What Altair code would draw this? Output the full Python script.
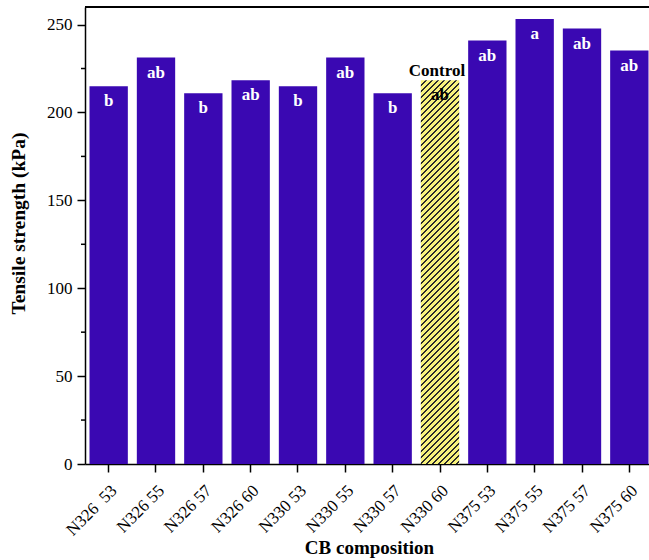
import math
import altair as alt
import pandas as pd

# CB composition (carbon black grade + loading) and measured tensile strength
categories = ["N326\u00a0 53", "N326 55", "N326 57", "N326 60",
              "N330 53", "N330 55", "N330 57", "N330 60",
              "N375 53", "N375 55", "N375 57", "N375 60"]
strength = [214.9, 231.2, 210.9, 218.3, 214.9, 231.2, 210.9, 218.3,
            240.9, 253.2, 247.7, 235.2]
groups = ["b", "ab", "b", "ab", "b", "ab", "b", "ab", "ab", "a", "ab", "ab"]
is_control = [False] * 7 + [True] + [False] * 4
minor_ticks = [25, 75, 125, 175, 225]

df = pd.DataFrame({
    "cat": categories,
    "val": strength,
    "grp": groups,
    "control": is_control,
})
minor_df = pd.DataFrame({"v": minor_ticks})

FONT = "Liberation Serif"
PURPLE = "#3A08B2"
YELLOW = "#F8F27C"
LINE = "#2a2a2a"
W_RANGE = 568     # band range of the category axis
H = 457           # plot height
Y_MAX = 260

# Diagonal hatch for the control bar, built as a hard-stop linear gradient
bar_w = W_RANGE / 12 * 0.81
bar_h = strength[7] / Y_MAX * H
c = (bar_w + bar_h) / (bar_w ** 2 + bar_h ** 2)
span_px = (bar_w + bar_h) / math.sqrt(2)
period = 6 / math.sqrt(2)          # 6 px horizontal repeat at 45 degrees
dark = 0.28
stops = []
k = 0
while k * period < span_px:
    a = k * period / span_px
    b = min((k + 1 - dark) * period / span_px, 1.0)
    e = min((k + 1) * period / span_px, 1.0)
    stops += [alt.GradientStop(offset=a, color=YELLOW),
              alt.GradientStop(offset=b, color=YELLOW),
              alt.GradientStop(offset=b, color=LINE),
              alt.GradientStop(offset=e, color=LINE)]
    k += 1
hatch = alt.LinearGradient(gradient="linear", stops=stops,
                           x1=0, y1=0, x2=c * bar_w, y2=c * bar_h)

x_enc = alt.X(
    "cat:N", sort=categories, title="CB composition",
    scale=alt.Scale(range=[0, W_RANGE], paddingInner=0.19, paddingOuter=0.095),
    axis=alt.Axis(labelAngle=-45, labelFont=FONT, labelFontSize=17,
                  labelColor="black", labelPadding=10, tickSize=8,
                  tickColor="black", tickWidth=1.5, domainColor="black",
                  domainWidth=1.5, titleFont=FONT, titleFontSize=19,
                  titleFontWeight="bold", titleColor="black",
                  titleY=89, titleBaseline="alphabetic"),
)
y_enc = alt.Y(
    "val:Q", title="Tensile strength (kPa)",
    scale=alt.Scale(domain=[0, Y_MAX], nice=False),
    axis=alt.Axis(values=[0, 50, 100, 150, 200, 250], grid=False,
                  labelFont=FONT, labelFontSize=17, labelColor="black",
                  labelPadding=5, tickSize=8, tickColor="black",
                  tickWidth=1.5, domainColor="black", domainWidth=1.5,
                  titleFont=FONT, titleFontSize=19.5, titleFontWeight="bold",
                  titleColor="black", titleX=-61, titleY=216,
                  titleBaseline="alphabetic"),
)

base = alt.Chart(df).encode(x=x_enc, y=y_enc)

bars = base.transform_filter("!datum.control").mark_bar(color=PURPLE)
control_bar = base.transform_filter("datum.control").mark_bar(color=hatch)

letters_white = base.transform_filter("!datum.control").mark_text(
    font=FONT, fontSize=17, fontWeight="bold", color="white",
    baseline="middle", dy=15).encode(text="grp:N")
letters_black = base.transform_filter("datum.control").mark_text(
    font=FONT, fontSize=17, fontWeight="bold", color="black",
    baseline="middle", dy=15).encode(text="grp:N")
control_label = base.transform_filter("datum.control").mark_text(
    font=FONT, fontSize=17, fontWeight="bold", color="black",
    baseline="middle", dy=-9, dx=-3).encode(text=alt.value("Control"))

minor = alt.Chart(minor_df).mark_rule(color="black", strokeWidth=1.5).encode(
    y=alt.Y("v:Q"), x=alt.value(0), x2=alt.value(-4))

top_border = alt.Chart(minor_df).mark_rule(color="black", strokeWidth=1.5).encode(
    y=alt.value(0), x=alt.value(0), x2=alt.value(W_RANGE))

chart = alt.layer(
    bars, control_bar, letters_white, letters_black, control_label,
    minor, top_border,
).properties(
    width=564, height=H,
    autosize=alt.AutoSizeParams(type="none"),
    padding={"left": 85, "top": 7, "right": 0, "bottom": 96},
    background="white",
).configure_view(stroke=None)

chart.save("out.html", embed_options={"renderer": "svg", "actions": False})
